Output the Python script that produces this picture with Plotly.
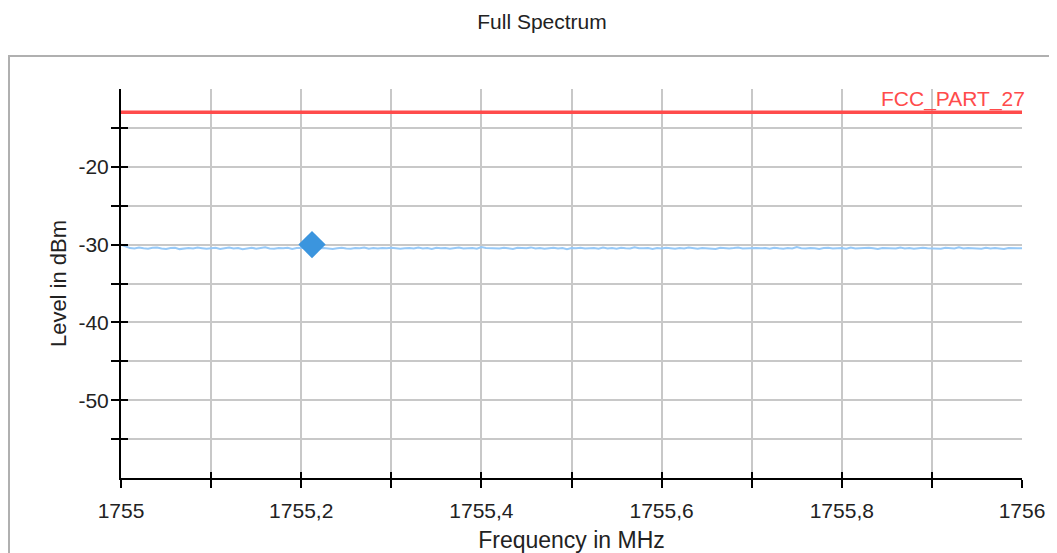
import numpy as np
import plotly.graph_objects as go

# ---- data ----
freq_start_mhz = 1755.0
freq_stop_mhz = 1756.0
level_dbm = [
    -30.02, -30.25, -30.45, -30.50, -30.38, -30.47, -30.52, -30.41, -30.36, -30.49,
    -30.55, -30.44, -30.40, -30.58, -30.47, -30.43, -30.51, -30.39, -30.46, -30.53,
    -30.48, -30.42, -30.56, -30.45, -30.37, -30.50, -30.44, -30.60, -30.47, -30.41,
    -30.52, -30.46, -30.35, -30.49, -30.54, -30.43, -30.48, -30.40, -30.57, -30.45,
    -30.42, -30.50, -30.47, -30.33, -30.51, -30.44, -30.48, -30.55, -30.46, -30.40,
    -30.49, -30.53, -30.43, -30.47, -30.38, -30.52, -30.45, -30.50, -30.44, -30.48,
    -30.41, -30.46, -30.54, -30.47, -30.43, -30.51, -30.37, -30.49, -30.45, -30.56,
    -30.42, -30.48, -30.44, -30.52, -30.46, -30.39, -30.50, -30.47, -30.43, -30.53,
    -30.32, -30.45, -30.49, -30.44, -30.51, -30.40, -30.47, -30.55, -30.42, -30.48,
    -30.46, -30.36, -30.50, -30.44, -30.53, -30.47, -30.41, -30.49, -30.45, -30.58,
    -30.43, -30.48, -30.40, -30.51, -30.46, -30.44, -30.54, -30.38, -30.49, -30.45,
    -30.52, -30.42, -30.47, -30.50, -30.34, -30.46, -30.48, -30.43, -30.55, -30.45,
    -30.49, -30.41, -30.47, -30.53, -30.44, -30.50, -30.39, -30.46, -30.52, -30.43,
    -30.48, -30.45, -30.57, -30.42, -30.47, -30.50, -30.44, -30.36, -30.49, -30.46,
    -30.51, -30.43, -30.48, -30.45, -30.54, -30.40, -30.47, -30.52, -30.44, -30.49,
    -30.31, -30.46, -30.50, -30.43, -30.48, -30.55, -30.45, -30.41, -30.51, -30.47,
    -30.44, -30.53, -30.38, -30.49, -30.46, -30.50, -30.42, -30.48, -30.56, -30.45,
    -30.47, -30.43, -30.51, -30.37, -30.49, -30.44, -30.52, -30.46, -30.40, -30.48,
    -30.50, -30.45, -30.54, -30.42, -30.47, -30.49, -30.35, -30.51, -30.44, -30.48,
    -30.46, -30.53, -30.41, -30.50, -30.45, -30.47, -30.57, -30.43, -30.49, -30.46,
    -30.48,
]
marker_freq_mhz = [1755.212]
marker_level_dbm = [-30.0]
limit_name = "FCC_PART_27"
limit_level_dbm = -13.0

x_tickvals = [1755.0, 1755.1, 1755.2, 1755.3, 1755.4, 1755.5, 1755.6, 1755.7, 1755.8, 1755.9, 1756.0]
x_ticktext = ["1755", "", "1755,2", "", "1755,4", "", "1755,6", "", "1755,8", "", "1756"]
y_tickvals = [-55, -50, -45, -40, -35, -30, -25, -20, -15]
y_ticktext = ["", "-50", "", "-40", "", "-30", "", "-20", ""]

freq_mhz = np.linspace(freq_start_mhz, freq_stop_mhz, len(level_dbm))

FONT = "Liberation Sans, Arial, sans-serif"
TXT = "#222222"
GRID = "#c8c8c8"

# page body has an 8px default margin; figure sized so it ends at the window edge
W, H = 1049, 545
ML, MT = 113, 81
PW, PH = 901, 389

fig = go.Figure()
fig.add_trace(go.Scatter(
    x=freq_mhz, y=level_dbm, mode="lines",
    line=dict(color="#97c9f7", width=2), showlegend=False, hoverinfo="skip",
))
fig.add_trace(go.Scatter(
    x=[freq_start_mhz, freq_stop_mhz], y=[limit_level_dbm, limit_level_dbm], mode="lines",
    line=dict(color="#ff4b4b", width=3.5), showlegend=False,
))
fig.add_trace(go.Scatter(
    x=marker_freq_mhz, y=marker_level_dbm, mode="markers",
    marker=dict(symbol="diamond", size=21, color="#3b95de", line=dict(width=0)),
    showlegend=False,
))
# empty trace to activate overlay axes (inner half of crossing ticks)
fig.add_trace(go.Scatter(x=[None], y=[None], xaxis="x2", yaxis="y2", showlegend=False))

fig.add_annotation(
    x=freq_stop_mhz, y=limit_level_dbm, xref="x", yref="y",
    text=limit_name, showarrow=False, xanchor="right", yanchor="bottom",
    xshift=5, yshift=-1,
    font=dict(family=FONT, size=21, color="#ff4b4b"),
)

# outer frame (starts at page x=9, y=56)
fig.add_shape(
    type="rect", xref="paper", yref="paper",
    x0=-(121 - 9) / PW, x1=1.3, y0=1 + (89 - 56) / PH, y1=-0.5,
    line=dict(color="#b0b0b0", width=2), fillcolor="rgba(0,0,0,0)", layer="below",
)

axis_common = dict(
    showline=True, linecolor="black", linewidth=2,
    ticks="outside", tickcolor="black", tickwidth=2, ticklen=8,
    zeroline=False, automargin=False,
    tickfont=dict(family=FONT, size=21, color=TXT),
)

fig.update_layout(
    width=W, height=H,
    margin=dict(l=ML, r=W - ML - PW, t=MT, b=H - MT - PH),
    paper_bgcolor="white", plot_bgcolor="white",
    separators=",.",
    title=dict(
        text="Full Spectrum", x=(542 - 8) / W, xanchor="center", xref="container",
        y=1 - (22 - 8) / H, yanchor="middle", yref="container",
        font=dict(family=FONT, size=21, color=TXT),
    ),
    xaxis=dict(
        range=[freq_start_mhz, freq_stop_mhz], tickvals=x_tickvals, ticktext=x_ticktext,
        showgrid=True, gridcolor=GRID, gridwidth=2, ticklabelstandoff=5,
        title=dict(text="Frequency in MHz", font=dict(family=FONT, size=23, color=TXT), standoff=12),
        **axis_common,
    ),
    yaxis=dict(
        range=[-60, -10], tickvals=y_tickvals, ticktext=y_ticktext,
        showgrid=True, gridcolor=GRID, gridwidth=2, ticklabelstandoff=-2,
        title=dict(text="Level in dBm", font=dict(family=FONT, size=22, color=TXT), standoff=6),
        **axis_common,
    ),
    xaxis2=dict(
        overlaying="x", anchor="y", side="bottom", range=[freq_start_mhz, freq_stop_mhz],
        tickvals=x_tickvals, showticklabels=False, showgrid=False, zeroline=False,
        ticks="inside", ticklen=6, tickwidth=2, tickcolor="black", showline=False,
    ),
    yaxis2=dict(
        overlaying="y", anchor="x", side="left", range=[-60, -10],
        tickvals=y_tickvals, showticklabels=False, showgrid=False, zeroline=False,
        ticks="inside", ticklen=7, tickwidth=2, tickcolor="black", showline=False,
    ),
)

fig.write_html("out.html")
